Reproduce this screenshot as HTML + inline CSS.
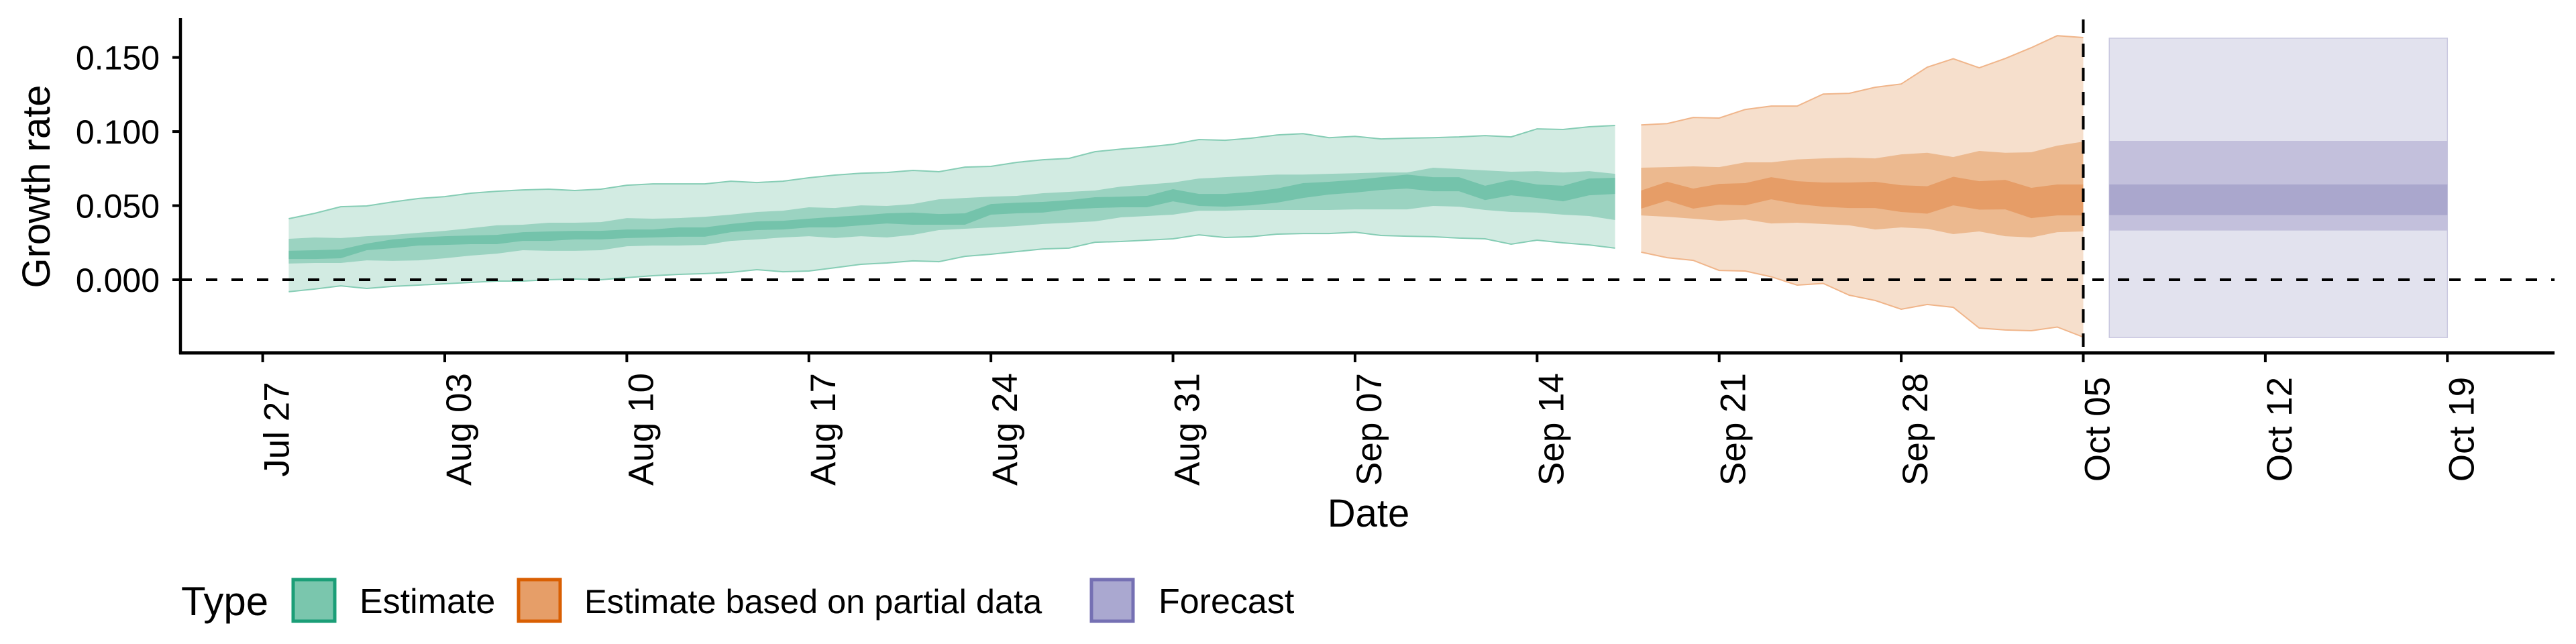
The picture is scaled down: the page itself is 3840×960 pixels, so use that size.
<!DOCTYPE html>
<html><head><meta charset="utf-8"><style>
html,body{margin:0;padding:0;background:#fff;}
svg{display:block;font-family:"Liberation Sans",sans-serif;}
</style></head><body>
<svg id="chart" width="3840" height="960" viewBox="0 0 3840 960" xmlns="http://www.w3.org/2000/svg">
<rect x="0" y="0" width="3840" height="960" fill="#fff"/>
<g id="bands"></g>
<g id="axes"></g>
<text x="0" y="0" transform="translate(74,278) rotate(-90)" text-anchor="middle" font-size="58">Growth rate</text>
<text x="2040" y="785" text-anchor="middle" font-size="58">Date</text>
<g>
  <text x="270" y="917" font-size="60">Type</text>
  <rect x="437" y="864" width="62" height="62" fill="#7ac6ad" stroke="#1b9e77" stroke-width="5"/>
  <text x="536" y="914" font-size="52">Estimate</text>
  <rect x="773" y="864" width="62" height="62" fill="#e69e68" stroke="#d95f02" stroke-width="5"/>
  <text x="871" y="914" font-size="50.5">Estimate based on partial data</text>
  <rect x="1627" y="864" width="62" height="62" fill="#aaa8d0" stroke="#7570b3" stroke-width="5"/>
  <text x="1727" y="914" font-size="52">Forecast</text>
</g>
</svg>
<script>
// ---- data (growth rate values); day index counted from Jul 27 ----
const estDays = Array.from({length:52},(_,i)=>i+1);
const estOuterHi = [0.0412,0.0448,0.0493,0.0498,0.0525,0.0548,0.0561,0.0584,0.0597,0.0606,0.0611,0.0602,0.0611,0.0638,0.0647,0.0647,0.0647,0.0665,0.0656,0.0665,0.0688,0.0706,0.0719,0.0724,0.0738,0.0729,0.0760,0.0765,0.0792,0.0810,0.0819,0.0864,0.0882,0.0896,0.0914,0.0946,0.0941,0.0955,0.0977,0.0986,0.0959,0.0968,0.0950,0.0955,0.0959,0.0964,0.0973,0.0964,0.1018,0.1014,0.1032,0.1041];
const estOuterLo = [-0.0081,-0.0063,-0.0041,-0.0059,-0.0045,-0.0036,-0.0027,-0.0018,-0.0009,-0.0009,0.0000,0.0005,0.0000,0.0014,0.0027,0.0036,0.0041,0.0050,0.0068,0.0054,0.0059,0.0081,0.0104,0.0113,0.0127,0.0122,0.0158,0.0172,0.0190,0.0208,0.0213,0.0253,0.0258,0.0267,0.0276,0.0303,0.0285,0.0290,0.0308,0.0312,0.0312,0.0321,0.0299,0.0294,0.0290,0.0281,0.0276,0.0240,0.0267,0.0249,0.0235,0.0213];
const estMidHi = [0.0276,0.0285,0.0281,0.0294,0.0303,0.0317,0.0330,0.0348,0.0367,0.0371,0.0385,0.0385,0.0389,0.0416,0.0412,0.0416,0.0425,0.0439,0.0457,0.0466,0.0489,0.0484,0.0502,0.0498,0.0511,0.0543,0.0552,0.0561,0.0566,0.0584,0.0593,0.0602,0.0629,0.0643,0.0656,0.0683,0.0692,0.0701,0.0710,0.0710,0.0715,0.0719,0.0724,0.0724,0.0756,0.0747,0.0738,0.0729,0.0733,0.0724,0.0733,0.0715];
const estMidLo = [0.0109,0.0113,0.0113,0.0131,0.0127,0.0131,0.0145,0.0163,0.0176,0.0199,0.0195,0.0195,0.0199,0.0226,0.0231,0.0231,0.0235,0.0262,0.0272,0.0285,0.0294,0.0281,0.0294,0.0285,0.0303,0.0335,0.0344,0.0353,0.0362,0.0376,0.0385,0.0394,0.0421,0.0430,0.0439,0.0466,0.0466,0.0471,0.0471,0.0471,0.0471,0.0475,0.0475,0.0475,0.0498,0.0493,0.0471,0.0457,0.0453,0.0439,0.0430,0.0403];
const estInHi = [0.0195,0.0199,0.0204,0.0244,0.0272,0.0285,0.0294,0.0299,0.0303,0.0321,0.0326,0.0330,0.0330,0.0339,0.0339,0.0353,0.0353,0.0376,0.0394,0.0398,0.0412,0.0425,0.0434,0.0448,0.0453,0.0443,0.0448,0.0511,0.0520,0.0525,0.0538,0.0557,0.0561,0.0566,0.0611,0.0579,0.0579,0.0593,0.0615,0.0652,0.0661,0.0674,0.0692,0.0710,0.0692,0.0692,0.0634,0.0674,0.0643,0.0634,0.0683,0.0688];
const estInLo = [0.0140,0.0140,0.0145,0.0199,0.0213,0.0231,0.0235,0.0240,0.0240,0.0262,0.0262,0.0272,0.0272,0.0281,0.0285,0.0290,0.0290,0.0321,0.0335,0.0339,0.0353,0.0353,0.0367,0.0380,0.0371,0.0371,0.0371,0.0439,0.0448,0.0453,0.0475,0.0484,0.0489,0.0489,0.0529,0.0498,0.0493,0.0502,0.0520,0.0552,0.0575,0.0588,0.0606,0.0615,0.0597,0.0597,0.0538,0.0570,0.0552,0.0529,0.0570,0.0579];

const partDays = Array.from({length:18},(_,i)=>i+53);
const partOuterHi = [0.1045,0.1054,0.1095,0.1091,0.1149,0.1172,0.1172,0.1253,0.1258,0.1299,0.1321,0.1434,0.1491,0.1430,0.1493,0.1566,0.1647,0.1634];
const partOuterLo = [0.0186,0.0149,0.0131,0.0063,0.0059,0.0020,-0.0036,-0.0025,-0.0104,-0.0140,-0.0199,-0.0167,-0.0186,-0.0326,-0.0339,-0.0344,-0.0319,-0.0387];
const partMidHi = [0.0756,0.0760,0.0765,0.0760,0.0792,0.0792,0.0812,0.0819,0.0824,0.0819,0.0846,0.0857,0.0828,0.0869,0.0857,0.0860,0.0905,0.0932];
const partMidLo = [0.0434,0.0425,0.0412,0.0398,0.0407,0.0380,0.0385,0.0376,0.0367,0.0339,0.0353,0.0344,0.0308,0.0326,0.0294,0.0285,0.0321,0.0326];
const partInHi = [0.0602,0.0661,0.0615,0.0647,0.0652,0.0692,0.0665,0.0656,0.0656,0.0661,0.0638,0.0631,0.0695,0.0665,0.0674,0.0620,0.0643,0.0643];
const partInLo = [0.0480,0.0534,0.0480,0.0507,0.0502,0.0543,0.0511,0.0493,0.0484,0.0484,0.0457,0.0446,0.0502,0.0473,0.0475,0.0416,0.0434,0.0434];

const fcDays = [71,84];
const fcOuter = [-0.039,0.163];
const fcMid = [0.0332,0.0937];
const fcIn = [0.0436,0.0643];

const yTicks = [0,0.05,0.10,0.15];
const yTickLabels = ["0.000","0.050","0.100","0.150"];
const xTickDays = [0,7,14,21,28,35,42,49,56,63,70,77,84];
const xTickLabels = ["Jul 27","Aug 03","Aug 10","Aug 17","Aug 24","Aug 31","Sep 07","Sep 14","Sep 21","Sep 28","Oct 05","Oct 12","Oct 19"];
const cutoffDay = 70;

// ---- scales ----
const X0 = 391.6, PXD = 38.77, Y0 = 417, PYV = 2209;
const xs = d => X0 + d*PXD;
const ys = v => Y0 - v*PYV;
const NS = "http://www.w3.org/2000/svg";
const bands = document.getElementById('bands');
const axes = document.getElementById('axes');

function ribbon(days, lo, hi, fill, stroke, name){
  let d = "M";
  days.forEach((dd,i)=>{ d += (i?" L":"") + xs(dd).toFixed(1)+","+ys(hi[i]).toFixed(1); });
  for(let i=days.length-1;i>=0;i--) d += " L"+xs(days[i]).toFixed(1)+","+ys(lo[i]).toFixed(1);
  d += " Z";
  const p = document.createElementNS(NS,'path');
  p.setAttribute('d', d);
  p.setAttribute('fill', fill);
  p.setAttribute('stroke', 'none');
  
  
  bands.appendChild(p);
  if(stroke){
    for(const arr of [hi, lo]){
      const l = document.createElementNS(NS,'polyline');
      l.setAttribute('points', days.map((dd,i)=>xs(dd).toFixed(1)+","+ys(arr[i]).toFixed(1)).join(" "));
      l.setAttribute('fill','none');
      l.setAttribute('stroke', stroke);
      l.setAttribute('stroke-width','2');
      
      
      bands.appendChild(l);
    }
  }
}
ribbon(estDays, estOuterLo, estOuterHi, '#d2ebe2', '#86cdb5', 'estimate-outer-band');
ribbon(estDays, estMidLo, estMidHi, '#9bd3c1', null, 'estimate-mid-band');
ribbon(estDays, estInLo, estInHi, '#74c3ab', null, 'estimate-inner-band');
ribbon(partDays, partOuterLo, partOuterHi, '#f6dfcc', '#f0b58a', 'partial-outer-band');
ribbon(partDays, partMidLo, partMidHi, '#ecb98f', null, 'partial-mid-band');
ribbon(partDays, partInLo, partInHi, '#e69d67', null, 'partial-inner-band');

function fcRect(lohi, fill, name, stroke){
  const r = document.createElementNS(NS,'rect');
  r.setAttribute('x', xs(fcDays[0]));
  r.setAttribute('width', xs(fcDays[1]) - xs(fcDays[0]));
  r.setAttribute('y', ys(lohi[1]));
  r.setAttribute('height', ys(lohi[0]) - ys(lohi[1]));
  r.setAttribute('fill', fill);
  if(stroke){ r.setAttribute('stroke', stroke); r.setAttribute('stroke-width','1.5'); }
  
  
  bands.appendChild(r);
}
fcRect(fcOuter, '#e2e2ee', 'forecast-outer-band', '#c9c7e0');
fcRect(fcMid, '#c3c0dc', 'forecast-mid-band');
fcRect(fcIn, '#aaa7cd', 'forecast-inner-band');

function line(x1,y1,x2,y2,w,name,dash){
  const l = document.createElementNS(NS,'line');
  l.setAttribute('x1',x1); l.setAttribute('y1',y1); l.setAttribute('x2',x2); l.setAttribute('y2',y2);
  l.setAttribute('stroke','#000'); l.setAttribute('stroke-width',w);
  if(dash) l.setAttribute('stroke-dasharray',dash);
  
  
  axes.appendChild(l);
}
line(269, ys(0), 3808, ys(0), 4, 'zero-reference-line', '17 21');
line(xs(cutoffDay), 29, xs(cutoffDay), 526, 4, 'cutoff-line', '20 16');
line(269, 27, 269, 528, 4.5, 'y-axis-line');
line(267, 526, 3808, 526, 5, 'x-axis-line');

yTicks.forEach((v,i)=>{
  line(257, ys(v), 269, ys(v), 4, 'y-tick');
  const t = document.createElementNS(NS,'text');
  t.setAttribute('x', 238); t.setAttribute('y', ys(v)+18);
  t.setAttribute('text-anchor','end'); t.setAttribute('font-size','50');
  
  
  t.textContent = yTickLabels[i];
  axes.appendChild(t);
});
xTickDays.forEach((d,i)=>{
  const x = xs(d);
  line(x, 526, x, 540, 4, 'x-tick');
  const t = document.createElementNS(NS,'text');
  t.setAttribute('transform', 'translate('+(x+39).toFixed(1)+',640) rotate(-90)');
  t.setAttribute('text-anchor','middle'); t.setAttribute('font-size','53');
  
  
  t.textContent = xTickLabels[i];
  axes.appendChild(t);
});
</script>
</body></html>
